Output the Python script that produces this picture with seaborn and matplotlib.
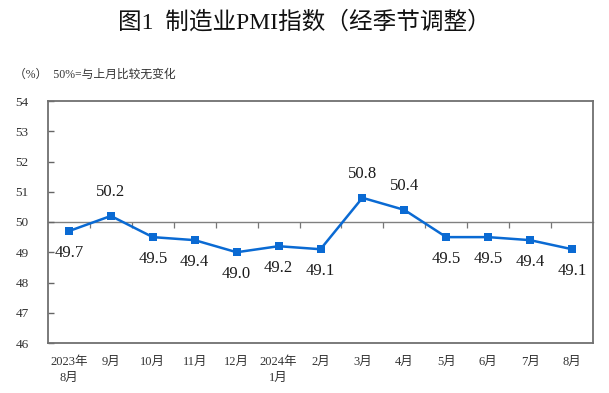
import matplotlib
matplotlib.use("Agg")
import matplotlib.pyplot as plt
import seaborn as sns
import numpy as np
import pandas as pd

months = ["2023年\n8月", "9月", "10月", "11月", "12月", "2024年\n1月", "2月",
          "3月", "4月", "5月", "6月", "7月", "8月"]
pmi = [49.7, 50.2, 49.5, 49.4, 49.0, 49.2, 49.1, 50.8, 50.4, 49.5, 49.5, 49.4, 49.1]
label_above = [False, True, False, False, False, False, False, True, True, False, False, False, False]
y_ticks = [46, 47, 48, 49, 50, 51, 52, 53, 54]

title = "图1  制造业PMI指数（经季节调整）"
unit_note = "（%）  50%=与上月比较无变化"

sns.set_theme(style="white")
fam = ["Liberation Serif", "Noto Sans CJK SC", "DejaVu Sans"]
plt.rcParams["font.family"] = fam

fig = plt.figure(figsize=(6.09, 3.93), dpi=100)
ax = fig.add_axes([48 / 609, 1 - 343 / 393, (593 - 48) / 609, (343 - 101) / 393])

df = pd.DataFrame({"pos": np.arange(len(months)), "pmi": pmi})
line_color = "#0a6ad3"
sns.lineplot(data=df, x="pos", y="pmi", ax=ax, color=line_color, linewidth=1.8,
             marker="s", markersize=6, markeredgewidth=0, markerfacecolor=line_color,
             zorder=5)

for i, (v, up) in enumerate(zip(pmi, label_above)):
    off = 17 if up else -16
    ax.annotate(f"{v:.1f}", xy=(i, v), xytext=(0, off), textcoords="offset points",
                ha="center", va="center", fontsize=12, color="#1a1a1a",
                family=fam)

ax.set_xlim(-0.5, len(months) - 0.5)
ax.set_ylim(y_ticks[0], y_ticks[-1])
ax.set_yticks(y_ticks)
ax.set_xticks(np.arange(len(months)))
ax.set_xticklabels(months, fontsize=9, color="#333333", linespacing=1.5)
ax.set_yticklabels([str(t) for t in y_ticks], fontsize=9.5, color="#333333")
ax.tick_params(axis="x", length=0, pad=9)
ax.tick_params(axis="y", direction="in", length=4, width=1, color="#666666", pad=14, left=True)
ax.set_xlabel("")
ax.set_ylabel("")

for s in ax.spines.values():
    s.set_visible(True)
    s.set_color("#707070")
    s.set_linewidth(1.3)

# reference line at 50 with boundary ticks
sec = ax.secondary_xaxis((50 - y_ticks[0]) / (y_ticks[-1] - y_ticks[0]))
sec.set_xticks(np.arange(len(months) - 1) + 0.5)
sec.set_xticklabels([])
sec.tick_params(axis="x", direction="in", length=4, width=0.9, color="#777777")
for s in sec.spines.values():
    s.set_color("#808080")
    s.set_linewidth(1.0)

fig.text(0.5, 1 - 22 / 393, title, ha="center", va="center", fontsize=17,
         fontweight="normal", color="#111111", family=fam)
fig.text(14 / 609, 1 - 75 / 393, unit_note, ha="left", va="center", fontsize=8.5,
         color="#333333", family=fam)

fig.savefig("out.png", dpi=100)
